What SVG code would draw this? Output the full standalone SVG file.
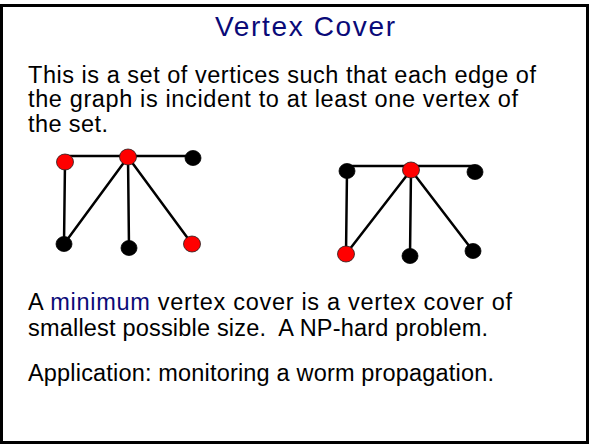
<svg xmlns="http://www.w3.org/2000/svg" width="593" height="447" viewBox="0 0 593 447">
<style>
.frame{fill:#fff;stroke:#000;stroke-width:3}
.title{font-family:"Liberation Sans",Arial,sans-serif;font-size:28px;fill:#0a0a78}
.body{font-family:"Liberation Sans",Arial,sans-serif;font-size:23.5px;fill:#000}
.hl{fill:#0a0a78}
.edge{stroke:#000;stroke-width:2.5;fill:none;stroke-linecap:round}
.red{fill:#ff0000;stroke:#222;stroke-width:0.8}
.blk{fill:#000;stroke:#000;stroke-width:0.8}
</style>
<rect class="frame" x="1.5" y="5.5" width="586" height="437"/>
<text class="title" x="215" y="36" textLength="180">Vertex Cover</text>
<text class="body" x="28" y="83" textLength="508">This is a set of vertices such that each edge of</text>
<text class="body" x="28" y="107" textLength="490">the graph is incident to at least one vertex of</text>
<text class="body" x="28" y="132" textLength="80">the set.</text>
<g id="connectors">
<line class="edge" x1="65" y1="156" x2="193" y2="156"/>
<line class="edge" x1="65" y1="162" x2="64" y2="244"/>
<line class="edge" x1="128" y1="157" x2="64" y2="244"/>
<line class="edge" x1="128" y1="157" x2="129" y2="248"/>
<line class="edge" x1="128" y1="157" x2="192" y2="244"/>
<line class="edge" x1="347" y1="166" x2="475" y2="166"/>
<line class="edge" x1="347" y1="171" x2="346" y2="254"/>
<line class="edge" x1="411" y1="170" x2="346" y2="254"/>
<line class="edge" x1="411" y1="170" x2="410" y2="256"/>
<line class="edge" x1="411" y1="170" x2="473" y2="251"/>
</g>
<g id="L1"><ellipse class="red" cx="65" cy="162" rx="8.5" ry="8"/></g>
<g id="L2"><ellipse class="red" cx="128" cy="157" rx="8.5" ry="8"/></g>
<g id="L3"><ellipse class="blk" cx="193" cy="158" rx="8" ry="7.5"/></g>
<g id="L4"><ellipse class="blk" cx="64" cy="244" rx="8" ry="7.5"/></g>
<g id="L5"><ellipse class="blk" cx="129" cy="248" rx="8" ry="7.5"/></g>
<g id="L6"><ellipse class="red" cx="192" cy="244" rx="8.5" ry="8"/></g>
<g id="R1"><ellipse class="blk" cx="347" cy="171" rx="8" ry="7.5"/></g>
<g id="R2"><ellipse class="red" cx="411" cy="170" rx="8.5" ry="8"/></g>
<g id="R3"><ellipse class="blk" cx="475" cy="172" rx="8" ry="7.5"/></g>
<g id="R4"><ellipse class="red" cx="346" cy="254" rx="8.5" ry="8"/></g>
<g id="R5"><ellipse class="blk" cx="410" cy="256" rx="8" ry="7.5"/></g>
<g id="R6"><ellipse class="blk" cx="473" cy="251" rx="8" ry="7.5"/></g>
<text class="body" x="28" y="310" textLength="484">A <tspan class="hl">minimum</tspan> vertex cover is a vertex cover of</text>
<text class="body" x="28" y="336" textLength="460" xml:space="preserve">smallest possible size.  A NP-hard problem.</text>
<text class="body" x="28" y="381" textLength="466">Application: monitoring a worm propagation.</text>
</svg>
